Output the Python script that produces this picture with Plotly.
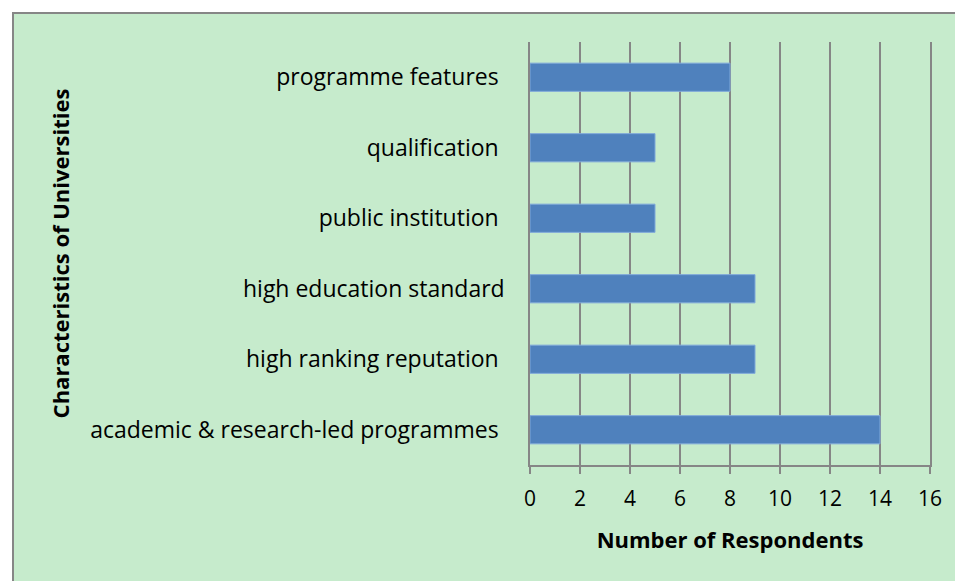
import plotly.graph_objects as go

categories = [
    "academic & research-led programmes",
    "high ranking reputation",
    "high education standard",
    "public institution",
    "qualification",
    "programme features",
]
tick_labels = [
    "academic & research-led programmes\u00a0",
    "high ranking reputation\u00a0",
    "high education standard",
    "public institution\u00a0",
    "qualification\u00a0",
    "programme features\u00a0",
]
respondents = [14, 9, 9, 5, 5, 8]
x_ticks = [0, 2, 4, 6, 8, 10, 12, 14, 16]

FONT = "'Open Sans', Carlito, Lato, sans-serif"
GRID = "#868686"

fig = go.Figure(
    go.Bar(
        y=categories,
        x=respondents,
        orientation="h",
        marker=dict(color="#4F81BD", line=dict(color="#7FA8DA", width=1)),
    )
)

# page has an 8px body margin; figure drawn at (8, 8)
OFF = 8
W, H = 963 - OFF, 581 - OFF
ml, mr, mt, mb = 530 - OFF, 33, 42 - OFF, 116
pw, ph = W - ml - mr, H - mt - mb

fig.update_layout(
    width=W,
    height=H,
    margin=dict(l=ml, r=mr, t=mt, b=mb, pad=0),
    paper_bgcolor="white",
    plot_bgcolor="rgba(0,0,0,0)",
    bargap=0.6,
    showlegend=False,
    font=dict(family=FONT, size=21, color="black"),
    shapes=[
        dict(
            type="rect",
            xref="paper",
            yref="paper",
            x0=(13 - OFF - ml) / pw,
            x1=(W + 10 - ml) / pw,
            y0=(mt + ph - (H + 10)) / ph,
            y1=(mt + ph - (13 - OFF)) / ph,
            fillcolor="#C6EBCC",
            line=dict(color="#868686", width=2),
            layer="below",
        )
    ],
)

fig.update_xaxes(
    range=[0, 16],
    tickvals=x_ticks,
    ticktext=[str(v) for v in x_ticks],
    showgrid=True,
    gridcolor=GRID,
    gridwidth=1.5,
    zeroline=False,
    showline=True,
    linecolor=GRID,
    linewidth=1.5,
    ticks="outside",
    ticklen=7,
    tickwidth=1.5,
    tickcolor=GRID,
    ticklabelstandoff=7,
    tickfont=dict(family=FONT, size=21),
    title=dict(
        text="<b>Number of Respondents</b>",
        font=dict(family=FONT, size=22),
        standoff=22,
    ),
)

fig.update_yaxes(
    categoryorder="array",
    categoryarray=categories,
    tickvals=categories,
    ticktext=tick_labels,
    showgrid=False,
    zeroline=False,
    showline=True,
    mirror=True,
    linecolor=GRID,
    linewidth=1.5,
    ticks="",
    ticklabelstandoff=19,
    tickfont=dict(family=FONT, size=23),
    title=dict(
        text="<b>Characteristics of Universities</b>",
        font=dict(family=FONT, size=22),
        standoff=14,
    ),
)

fig.write_html("out.html")
